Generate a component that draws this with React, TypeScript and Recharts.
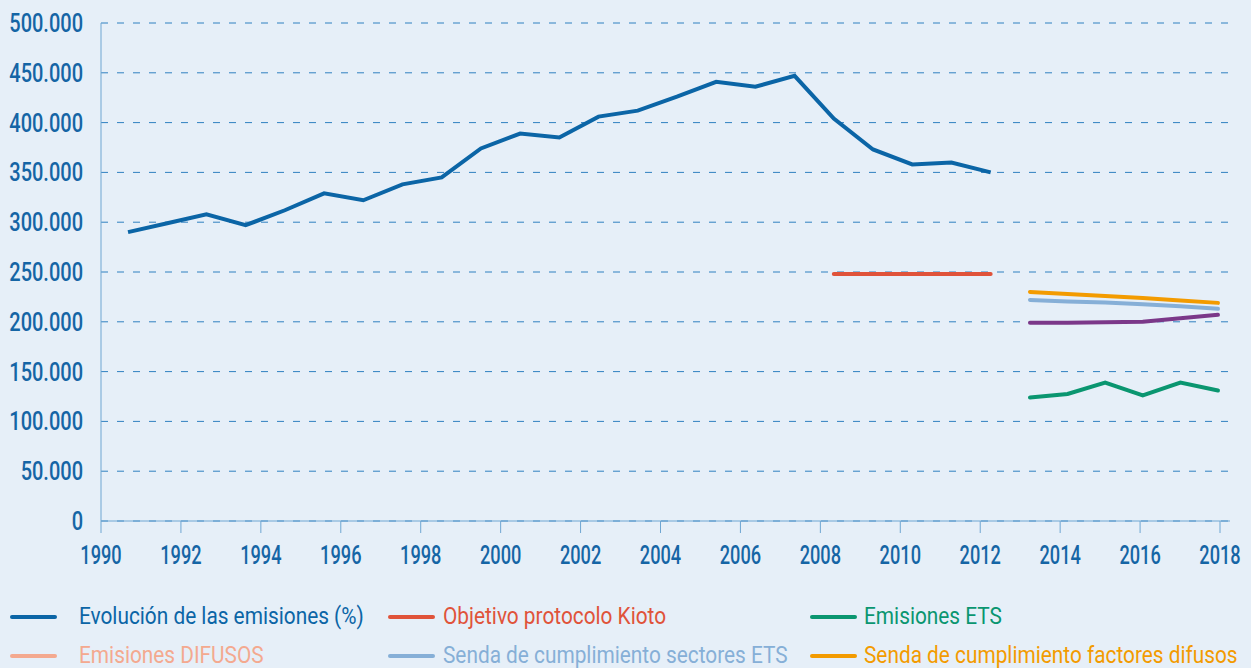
import * as React from 'react';
import { LineChart, Line, XAxis, YAxis, CartesianGrid } from 'recharts';

// historic series (1990-2012)
const histYears = [
  1990, 1991, 1992, 1993, 1994, 1995, 1996, 1997, 1998, 1999, 2000, 2001,
  2002, 2003, 2004, 2005, 2006, 2007, 2008, 2009, 2010, 2011, 2012,
];
const evolucion = [
  290000, 299000, 308000, 297000, 312000, 329000, 322000, 338000, 345000,
  374000, 389000, 385000, 406000, 412000, 426000, 441000, 436000, 447000,
  404000, 373000, 358000, 360000, 350000,
];

const kiotoYears = [2008, 2009, 2010, 2011, 2012];
const kioto = [248000, 248000, 248000, 248000, 248000];

// projections (2013-2018)
const projYears = [2013, 2014, 2015, 2016, 2017, 2018];
const emisionesEts = [124000, 127500, 139000, 126000, 139000, 131000];
const emisionesDifusos = [199000, 199000, 199500, 200000, 203500, 207000];
const sendaEts = [222000, 220500, 219500, 217500, 215500, 213000];
const sendaDifusos = [230000, 228000, 226000, 224000, 221500, 219000];

const yearTicks = [
  1990, 1992, 1994, 1996, 1998, 2000, 2002, 2004, 2006, 2008, 2010, 2012,
  2014, 2016, 2018,
];
const valueTicks = [
  0, 50000, 100000, 150000, 200000, 250000, 300000, 350000, 400000, 450000,
  500000,
];

const legendItems = [
  { label: 'Evolución de las emisiones (%)', color: '#0b65a6' },
  { label: 'Objetivo protocolo Kioto', color: '#e0533a' },
  { label: 'Emisiones ETS', color: '#0a9670' },
  { label: 'Emisiones DIFUSOS', color: '#f4a98f' },
  { label: 'Senda de cumplimiento sectores ETS', color: '#86afd7' },
  { label: 'Senda de cumplimiento factores difusos', color: '#f39b00' },
];

const FONT = 'Roboto, sans-serif';
const TEXT_BLUE = '#1565a5';
const AXIS_BLUE = '#6fa6d2';

// the source plots the yearly points slightly offset from the year ticks
const HIST_DOMAIN: [number, number] = [1989.311, 2018.104];
const PROJ_DOMAIN: [number, number] = [1988.293, 2018.32];

const toPoints = (xs: number[], vs: number[]) =>
  xs.map((year, i) => ({ year, v: vs[i] }));

const formatThousands = (v: number) =>
  String(v).replace(/\B(?=(\d{3})+(?!\d))/g, '.');

// condensed look: no narrow font installed, so squeeze horizontally
const YTick = (props: any) => {
  const { x, y, payload } = props;
  return (
    <g transform={`translate(${x},${y})`}>
      <text
        transform="scale(0.8,1)"
        textAnchor="end"
        dy="0.36em"
        fill={TEXT_BLUE}
        fontSize={25}
        fontWeight={500}
        fontFamily={FONT}
      >
        {formatThousands(payload.value)}
      </text>
    </g>
  );
};

const XTick = (props: any) => {
  const { x, y, payload } = props;
  return (
    <g transform={`translate(${x},${y})`}>
      <text
        transform="scale(0.7,1)"
        textAnchor="middle"
        dy="0.71em"
        fill={TEXT_BLUE}
        fontSize={26}
        fontWeight={500}
        fontFamily={FONT}
      >
        {payload.value}
      </text>
    </g>
  );
};

const legendLayout = [
  { swatch: 10, text: 79, top: 617 },
  { swatch: 388, text: 443, top: 617 },
  { swatch: 810, text: 864, top: 617 },
  { swatch: 10, text: 79, top: 656 },
  { swatch: 388, text: 443, top: 656 },
  { swatch: 810, text: 864, top: 656 },
];

const App = () => (
  <div
    style={{
      position: 'absolute',
      left: 0,
      top: 0,
      width: 1251,
      height: 668,
      background: '#e6eff8',
      overflow: 'hidden',
      fontFamily: FONT,
    }}
  >
    <LineChart
      width={1251}
      height={668}
      margin={{ top: 23, right: 21, bottom: 87, left: 0 }}
    >
      <CartesianGrid
        xAxisId="main"
        vertical={false}
        stroke="#2f80c0"
        strokeDasharray="7 9"
      />
      <XAxis
        xAxisId="main"
        type="number"
        dataKey="year"
        domain={[1990, 2018.25]}
        allowDataOverflow
        ticks={yearTicks}
        interval={0}
        height={60}
        tickSize={12}
        tickMargin={13}
        stroke={AXIS_BLUE}
        tick={<XTick />}
      />
      <XAxis xAxisId="hist" hide height={0} type="number" dataKey="year" domain={HIST_DOMAIN} allowDataOverflow />
      <XAxis xAxisId="proj" hide height={0} type="number" dataKey="year" domain={PROJ_DOMAIN} allowDataOverflow />
      <YAxis
        type="number"
        domain={[0, 500000]}
        ticks={valueTicks}
        interval={0}
        width={101}
        axisLine={{ stroke: AXIS_BLUE }}
        tickLine={false}
        tickSize={0}
        tickMargin={18}
        tick={<YTick />}
      />
      <Line
        xAxisId="hist"
        data={toPoints(histYears, evolucion)}
        dataKey="v"
        stroke="#0b65a6"
        strokeWidth={4}
        dot={false}
        isAnimationActive={false}
      />
      <Line
        xAxisId="hist"
        data={toPoints(kiotoYears, kioto)}
        dataKey="v"
        stroke="#e0533a"
        strokeWidth={4}
        strokeLinecap="round"
        dot={false}
        isAnimationActive={false}
      />
      <Line
        xAxisId="proj"
        data={toPoints(projYears, sendaDifusos)}
        dataKey="v"
        stroke="#f39b00"
        strokeWidth={4}
        strokeLinecap="round"
        dot={false}
        isAnimationActive={false}
      />
      <Line
        xAxisId="proj"
        data={toPoints(projYears, sendaEts)}
        dataKey="v"
        stroke="#86afd7"
        strokeWidth={4}
        strokeLinecap="round"
        dot={false}
        isAnimationActive={false}
      />
      <Line
        xAxisId="proj"
        data={toPoints(projYears, emisionesDifusos)}
        dataKey="v"
        stroke="#7b3889"
        strokeWidth={4}
        strokeLinecap="round"
        dot={false}
        isAnimationActive={false}
      />
      <Line
        xAxisId="proj"
        data={toPoints(projYears, emisionesEts)}
        dataKey="v"
        stroke="#0a9670"
        strokeWidth={4}
        strokeLinecap="round"
        dot={false}
        isAnimationActive={false}
      />
    </LineChart>
    {legendItems.map((item, i) => {
      const pos = legendLayout[i];
      return (
        <React.Fragment key={item.label}>
          <div
            style={{
              position: 'absolute',
              left: pos.swatch,
              top: pos.top - 2,
              width: 47,
              height: 4,
              borderRadius: 2,
              background: item.color,
            }}
          />
          <div
            style={{
              position: 'absolute',
              left: pos.text,
              top: pos.top - 12,
              fontSize: 23,
              lineHeight: '23px',
              color: item.color,
              whiteSpace: 'nowrap',
              transform: 'scaleX(0.905)',
              transformOrigin: 'left center',
            }}
          >
            {item.label}
          </div>
        </React.Fragment>
      );
    })}
  </div>
);

export default App;
